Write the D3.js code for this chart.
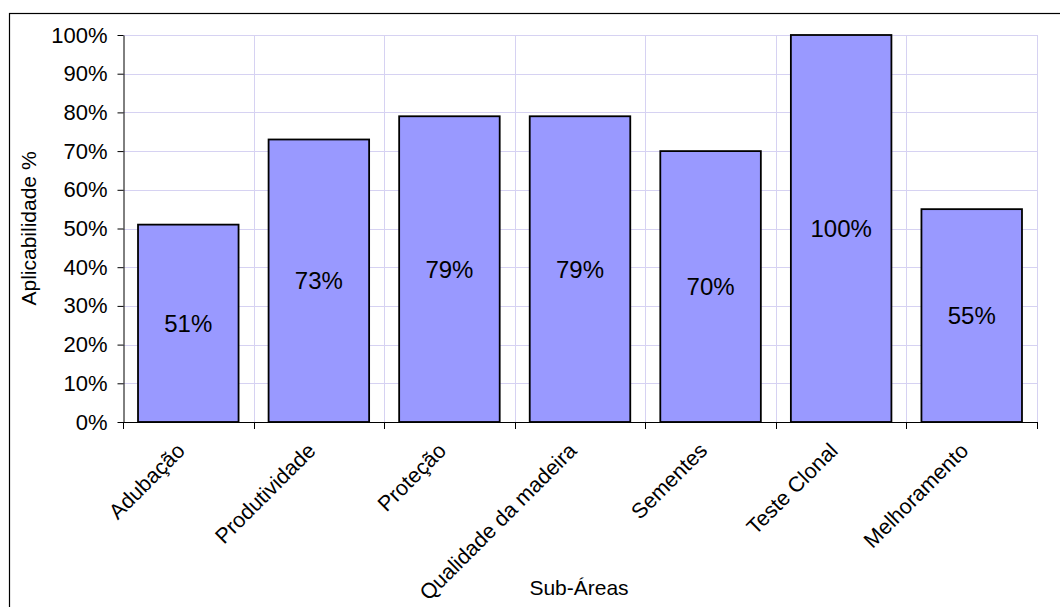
<!DOCTYPE html>
<html>
<head>
<meta charset="utf-8">
<script src="https://cdn.jsdelivr.net/npm/d3@7"></script>
<style>
  html, body { margin: 0; padding: 0; background: #fff; }
  svg { display: block; font-family: "Liberation Sans", Arial, sans-serif; }
</style>
</head>
<body>
<svg id="chart" width="1060" height="607"></svg>
<script>
// Applicability (%) per sub-area
const categories = ["Adubação", "Produtividade", "Proteção", "Qualidade da madeira", "Sementes", "Teste Clonal", "Melhoramento"];
const values = [51, 73, 79, 79, 70, 100, 55];
const yTicks = [0, 10, 20, 30, 40, 50, 60, 70, 80, 90, 100];

const svg = d3.select("#chart");
const plot = { left: 123, right: 1037, top: 35, bottom: 422 };
const font = "'Liberation Sans', Arial, sans-serif";

// outer chart frame (runs off the right and bottom edges)
svg.append("rect")
  .attr("x", 9.5).attr("y", 13.5)
  .attr("width", 1100).attr("height", 700)
  .attr("fill", "#fff").attr("stroke", "#000").attr("stroke-width", 1.2);

const x = d3.scaleBand().domain(categories).range([plot.left, plot.right]).paddingInner(0.23).paddingOuter(0.115);
const xEdge = d3.scaleLinear().domain([0, categories.length]).range([plot.left, plot.right]);
const y = d3.scaleLinear().domain([0, 100]).range([plot.bottom, plot.top]);

const grid = "#d6d2f2";

// horizontal gridlines
svg.append("g").selectAll("line").data(yTicks.filter(d => d > 0)).join("line")
  .attr("x1", plot.left).attr("x2", plot.right)
  .attr("y1", d => Math.round(y(d)) + 0.5).attr("y2", d => Math.round(y(d)) + 0.5)
  .attr("stroke", grid).attr("stroke-width", 1);

// vertical gridlines at category boundaries
svg.append("g").selectAll("line").data(d3.range(1, categories.length + 1)).join("line")
  .attr("x1", d => Math.round(xEdge(d)) + 0.5).attr("x2", d => Math.round(xEdge(d)) + 0.5)
  .attr("y1", plot.top).attr("y2", plot.bottom)
  .attr("stroke", grid).attr("stroke-width", 1);

// bars
svg.append("g").selectAll("rect").data(values).join("rect")
  .attr("x", (d, i) => x(categories[i]))
  .attr("y", d => y(d))
  .attr("width", x.bandwidth())
  .attr("height", d => y(0) - y(d))
  .attr("fill", "#9999ff")
  .attr("stroke", "#000").attr("stroke-width", 1.8);

// value labels centred in the bars
svg.append("g").selectAll("text").data(values).join("text")
  .attr("x", (d, i) => x(categories[i]) + x.bandwidth() / 2)
  .attr("y", d => (y(d) + y(0)) / 2)
  .attr("dy", "0.36em")
  .attr("text-anchor", "middle")
  .attr("font-size", 24)
  .text(d => d + "%");

// y axis
const yAxis = d3.axisLeft(y).tickValues(yTicks).tickFormat(d => d + "%").tickSize(6).tickSizeOuter(0);
const gy = svg.append("g").attr("transform", `translate(${plot.left + 0.5},0)`).call(yAxis);
gy.select(".domain").attr("stroke", "#000");
gy.selectAll(".tick line").attr("stroke", "#000");
gy.selectAll(".tick text").attr("font-size", 22).attr("fill", "#000").attr("x", -16)
  .attr("font-family", font);

// x axis line and boundary ticks
svg.append("line")
  .attr("x1", plot.left).attr("x2", plot.right + 0.5)
  .attr("y1", plot.bottom + 0.5).attr("y2", plot.bottom + 0.5)
  .attr("stroke", "#000");
svg.append("g").selectAll("line").data(d3.range(0, categories.length + 1)).join("line")
  .attr("x1", d => Math.round(xEdge(d)) + 0.5).attr("x2", d => Math.round(xEdge(d)) + 0.5)
  .attr("y1", plot.bottom).attr("y2", plot.bottom + 7)
  .attr("stroke", "#000");

// rotated category labels
svg.append("g").selectAll("text").data(categories).join("text")
  .attr("transform", d => `translate(${x(d) + x.bandwidth() / 2 - 2},${plot.bottom + 30}) rotate(-45)`)
  .attr("text-anchor", "end")
  .attr("font-size", 21.5)
  .text(d => d);

// axis titles
svg.append("text")
  .attr("transform", `translate(36,${(plot.top + plot.bottom) / 2}) rotate(-90)`)
  .attr("text-anchor", "middle")
  .attr("font-size", 21)
  .text("Aplicabilidade %");

svg.append("text")
  .attr("x", 579).attr("y", 595)
  .attr("text-anchor", "middle")
  .attr("font-size", 21)
  .text("Sub-Áreas");
</script>
</body>
</html>
